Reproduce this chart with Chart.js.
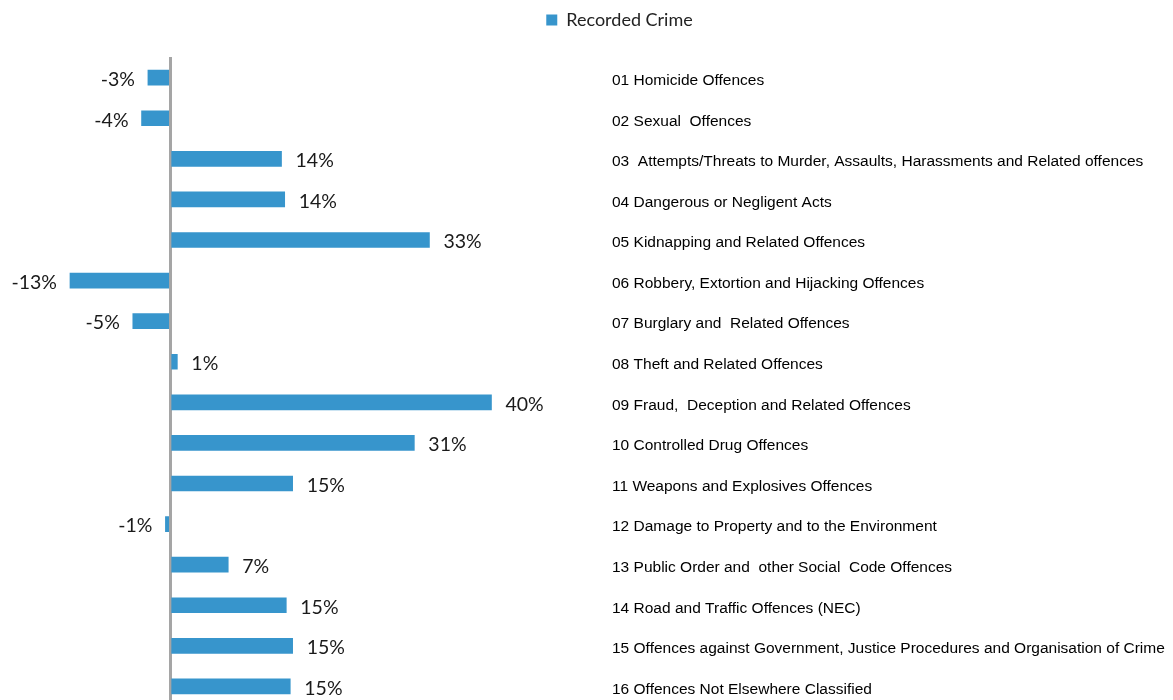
<!DOCTYPE html>
<html>
<head>
<meta charset="utf-8">
<script src="https://cdn.jsdelivr.net/npm/chart.js@4.4.1/dist/chart.umd.min.js"></script>
<style>
  html, body { margin: 0; padding: 0; overflow: hidden; background: #fff; }
  #wrap { position: relative; width: 1173px; height: 722px; }
</style>
</head>
<body>
<div id="wrap"><canvas id="c"></canvas></div>
<script>
const categories = [
  "01 Homicide Offences",
  "02 Sexual  Offences",
  "03  Attempts/Threats to Murder, Assaults, Harassments and Related offences",
  "04 Dangerous or Negligent Acts",
  "05 Kidnapping and Related Offences",
  "06 Robbery, Extortion and Hijacking Offences",
  "07 Burglary and  Related Offences",
  "08 Theft and Related Offences",
  "09 Fraud,  Deception and Related Offences",
  "10 Controlled Drug Offences",
  "11 Weapons and Explosives Offences",
  "12 Damage to Property and to the Environment",
  "13 Public Order and  other Social  Code Offences",
  "14 Road and Traffic Offences (NEC)",
  "15 Offences against Government, Justice Procedures and Organisation of Crime",
  "16 Offences Not Elsewhere Classified"
];
const seriesName = "Recorded Crime";
const recordedCrime = [-2.8, -3.6, 14.0, 14.4, 32.6, -12.6, -4.7, 0.9, 40.4, 30.7, 15.4, -0.6, 7.3, 14.6, 15.4, 15.1];
const xMin = -13.1;
const xMax = 54.8;

const barColor = "#3795CC";

const valueLabels = {
  id: "valueLabels",
  afterDatasetsDraw(chart) {
    const ctx = chart.ctx;
    const meta = chart.getDatasetMeta(0);
    ctx.save();
    ctx.font = "19.5px Lato, 'Open Sans', sans-serif";
    ctx.fillStyle = "#1a1a1a";
    ctx.textBaseline = "middle";
    meta.data.forEach((bar, i) => {
      const v = chart.data.datasets[0].data[i];
      const txt = v.toFixed(0) + "%";
      if (v >= 0) {
        ctx.textAlign = "left";
        ctx.fillText(txt, bar.x + 14, bar.y + 2);
      } else {
        ctx.textAlign = "right";
        ctx.fillText(txt, bar.x - 13, bar.y + 2);
      }
    });
    ctx.restore();
  }
};

new Chart(document.getElementById("c"), {
  type: "bar",
  data: {
    labels: categories,
    datasets: [{
      label: seriesName,
      data: recordedCrime,
      backgroundColor: barColor,
      borderWidth: 0,
      barThickness: 15
    }]
  },
  options: {
    indexAxis: "y",
    responsive: true,
    maintainAspectRatio: false,
    animation: false,
    layout: { padding: { left: 66, right: 0, top: 0, bottom: 0 } },
    plugins: {
      legend: {
        display: true,
        position: "top",
        labels: {
          boxWidth: 11,
          boxHeight: 11,
          color: "#222",
          font: { family: "Lato, 'Open Sans', sans-serif", size: 18 },
          padding: 11
        }
      },
      tooltip: { enabled: false }
    },
    scales: {
      x: {
        position: "top",
        min: xMin,
        max: xMax,
        z: 1,
        border: { display: false },
        ticks: { display: false },
        grid: {
          drawTicks: false,
          lineWidth: 3,
          color: (c) => (c.tick && c.tick.value === 0 ? "#A5A5A5" : "rgba(0,0,0,0)")
        },
        afterBuildTicks(scale) {
          scale.ticks = [{ value: 0 }];
        },
        afterFit(scale) { scale.height = 18.4; }
      },
      y: {
        position: "right",
        border: { display: false },
        grid: { display: false, drawTicks: false },
        ticks: {
          padding: 6,
          labelOffset: 3,
          color: "#000",
          font: { family: "'Liberation Sans', Arial, sans-serif", size: 15.5 }
        },
        afterFit(scale) { scale.width = 567; }
      }
    }
  },
  plugins: [valueLabels]
});
</script>
</body>
</html>
